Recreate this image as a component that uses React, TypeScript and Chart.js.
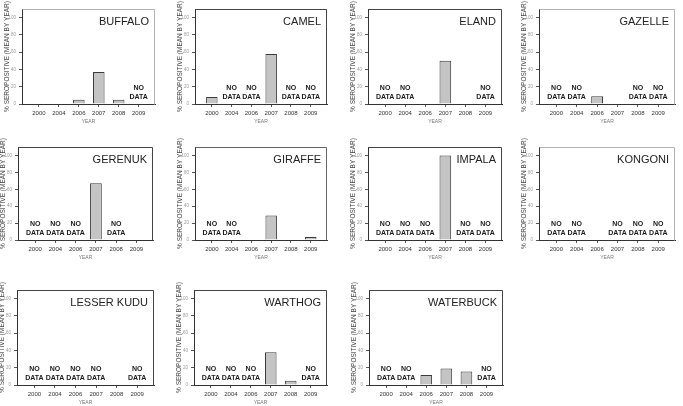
import React, { useEffect, useRef } from "react";
import { Chart, registerables } from "chart.js";

Chart.register(...registerables);
Chart.defaults.font.family = '"Liberation Sans", Arial, sans-serif';

const years = ["2000", "2004", "2006", "2007", "2008", "2009"];
const yTicks = [0, 20, 40, 60, 80, 100];

// null = "NO DATA"
const buffalo = [0, 0, 5, 37, 5, null];
const camel = [8, null, null, 58, null, null];
const eland = [null, null, 0, 50, 0, null];
const gazelle = [null, null, 9, 0, null, null];
const gerenuk = [null, null, null, 67, null, 0];
const giraffe = [null, null, 0, 29, 0, 3.5];
const impala = [null, null, null, 100, null, null];
const kongoni = [null, null, 0, null, null, null];
const lesserKudu = [null, null, null, null, 0, null];
const warthog = [null, null, null, 38, 5, null];
const waterbuck = [null, null, 11.5, 19, 15.5, null];

const DARK = "#444";
const LIGHT = "#b4b4b4";

const panels = [
  { title: "BUFFALO", values: buffalo, l: 22, t: 9, r: 155, b: 104, frame: LIGHT },
  { title: "CAMEL", values: camel, l: 195, t: 9, r: 327, b: 104, frame: DARK },
  { title: "ELAND", values: eland, l: 368, t: 9, r: 502, b: 104, frame: DARK },
  { title: "GAZELLE", values: gazelle, l: 539, t: 9, r: 675, b: 104, frame: LIGHT },
  { title: "GERENUK", values: gerenuk, l: 18, t: 147, r: 153, b: 240, frame: DARK },
  { title: "GIRAFFE", values: giraffe, l: 195, t: 147, r: 327, b: 240, frame: "#666" },
  { title: "IMPALA", values: impala, l: 368, t: 147, r: 502, b: 240, frame: DARK },
  { title: "KONGONI", values: kongoni, l: 539, t: 147, r: 675, b: 240, frame: LIGHT },
  { title: "LESSER KUDU", values: lesserKudu, l: 17, t: 290, r: 154, b: 385, frame: DARK },
  { title: "WARTHOG", values: warthog, l: 194, t: 290, r: 327, b: 385, frame: DARK },
  { title: "WATERBUCK", values: waterbuck, l: 369, t: 290, r: 503, b: 385, frame: DARK },
];

const YW = 19; // y axis width
const PT = 14; // top padding (room for the rotated y title)
const PR = 2; // right padding
const XH = 21; // x axis height

type PanelDef = (typeof panels)[number];

function Panel({ p }: { p: PanelDef }) {
  const ref = useRef<HTMLCanvasElement | null>(null);
  const w = p.r - p.l + YW + PR;
  const h = p.b - p.t + PT + XH;

  useEffect(() => {
    const canvas = ref.current;
    if (!canvas) return;
    const deco = {
      id: "deco",
      afterDraw(chart: any) {
        const { ctx, chartArea } = chart;
        const xs = chart.scales.x;
        const ys = chart.scales.y;
        ctx.save();
        ctx.strokeStyle = p.frame;
        ctx.lineWidth = 1;
        ctx.beginPath();
        ctx.moveTo(Math.round(chartArea.left) + 0.5, Math.round(chartArea.top) + 0.5);
        ctx.lineTo(Math.round(chartArea.right) - 0.5, Math.round(chartArea.top) + 0.5);
        ctx.lineTo(Math.round(chartArea.right) - 0.5, Math.round(chartArea.bottom) + 0.5);
        ctx.stroke();
        ctx.fillStyle = "#222";
        ctx.font = '11px "Liberation Sans", Arial, sans-serif';
        ctx.textAlign = "right";
        ctx.textBaseline = "top";
        ctx.fillText(p.title, chartArea.right - 6, chartArea.top + 7);
        ctx.font = 'bold 7px "Liberation Sans", Arial, sans-serif';
        ctx.textAlign = "center";
        ctx.textBaseline = "middle";
        ctx.fillStyle = "#1a1a1a";
        const y0 = ys.getPixelForValue(0);
        p.values.forEach((v, i) => {
          if (v === null) {
            const x = xs.getPixelForValue(i);
            ctx.fillText("NO", x, y0 - 16);
            ctx.fillText("DATA", x, y0 - 7);
          }
        });
        ctx.restore();
      },
    };
    const chart = new Chart(canvas, {
      type: "bar",
      data: {
        datasets: [
          {
            data: p.values.map((v, i) => ({ x: i, y: v })) as any,
            backgroundColor: "#c4c4c4",
            borderColor: "#3a3a3a",
            borderWidth: 1,
            barPercentage: 0.58,
            categoryPercentage: 1,
          },
        ],
      },
      options: {
        animation: false,
        responsive: false,
        devicePixelRatio: 1,
        layout: { padding: { top: PT, right: PR, left: 0, bottom: 0 } },
        plugins: { legend: { display: false }, tooltip: { enabled: false } },
        scales: {
          x: {
            type: "linear",
            offset: false,
            min: -0.85,
            max: 5.82,
            afterBuildTicks: (s: any) => {
              s.ticks = years.map((_, i) => ({ value: i }));
            },
            afterFit: (s: any) => {
              s.height = XH;
            },
            ticks: {
              callback: (v: any) => years[v as number] ?? "",
              font: { size: 6 },
              color: "#333",
              padding: 3,
              maxRotation: 0,
              autoSkip: false,
            },
            grid: { display: true, drawOnChartArea: false, tickLength: 3, color: "#555", offset: false },
            border: { color: "#333", width: 1 },
            title: {
              display: true,
              text: "YEAR",
              font: { size: 5 },
              color: "#777",
              padding: { top: 0, bottom: 0 },
            },
          },
          y: {
            min: 0,
            max: 110,
            afterBuildTicks: (s: any) => {
              s.ticks = yTicks.map((v) => ({ value: v }));
            },
            afterFit: (s: any) => {
              s.width = YW;
            },
            ticks: { font: { size: 4.5 }, color: "#999", padding: 3 },
            grid: { display: true, drawOnChartArea: false, tickLength: 3, color: "#555" },
            border: { color: "#333", width: 1 },
            title: {
              display: true,
              text: "% SEROPOSITIVE (MEAN BY YEAR)",
              font: { size: 6.5 },
              color: "#444",
              padding: 0,
            },
          },
        },
      },
      plugins: [deco],
    });
    return () => chart.destroy();
  }, []);

  return (
    <canvas
      ref={ref}
      width={w}
      height={h}
      style={{
        position: "absolute",
        left: p.l - YW,
        top: p.t - PT,
        width: w,
        height: h,
      }}
    />
  );
}

export default function App() {
  return (
    <div
      style={{
        position: "absolute",
        left: 0,
        top: 0,
        width: 683,
        height: 406,
        background: "#fff",
      }}
    >
      {panels.map((p) => (
        <Panel key={p.title} p={p} />
      ))}
    </div>
  );
}
